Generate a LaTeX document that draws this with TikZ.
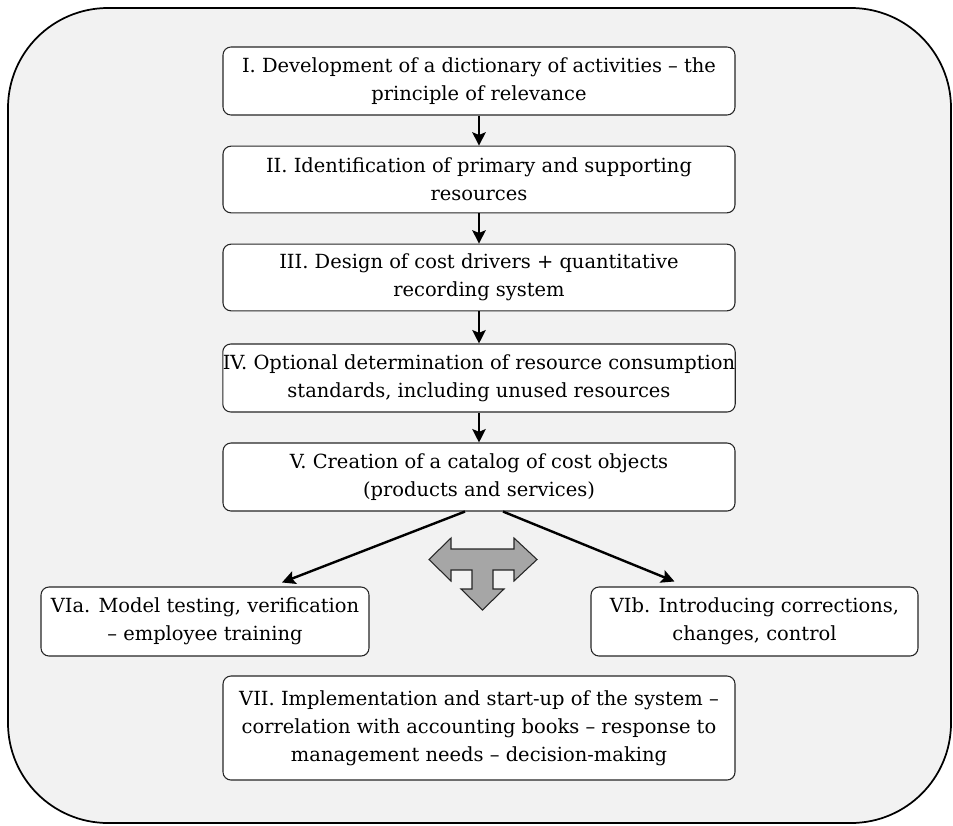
\documentclass[tikz,border=0pt]{standalone}
\usepackage{fontspec}
\setmainfont{DejaVu Serif}
\usetikzlibrary{arrows.meta,calc}
\definecolor{bgc}{HTML}{F2F2F2}
\definecolor{tgray}{HTML}{A6A6A6}
\begin{document}
\begin{tikzpicture}[x=0.75pt,y=-0.75pt,
  stepbox/.style={draw=black!85, fill=white, rounded corners=6pt, line width=0.8pt,
    align=center, inner sep=0pt, font=\fontsize{14.6}{21}\selectfont},
  arr/.style={line width=1.8pt, -{Stealth[length=10pt,width=10pt,inset=2pt]}},
  tarrow/.style={fill=tgray, draw=black!85, line width=0.8pt}]
\useasboundingbox (0,0) rectangle (953,825);
\draw[fill=bgc, line width=1.3pt, rounded corners=75pt] (8,8) rectangle (951,823);

\node[stepbox, minimum width=384pt, minimum height=51pt] (I) at (479,81)
  {I. Development of a dictionary of activities – the\\principle of relevance};
\node[stepbox, minimum width=384pt, minimum height=50pt] (II) at (479,179.5)
  {II. Identification of primary and supporting\\resources};
\node[stepbox, minimum width=384pt, minimum height=50pt] (III) at (479,277.5)
  {III. Design of cost drivers + quantitative\\recording system};
\node[stepbox, minimum width=384pt, minimum height=51pt] (IV) at (479,378)
  {IV. Optional determination of resource consumption\\standards, including unused resources};
\node[stepbox, minimum width=384pt, minimum height=51pt] (V) at (479,477)
  {V. Creation of a catalog of cost objects\\(products and services)};
\node[stepbox, minimum width=246pt, minimum height=51.75pt] (VIa) at (205,621.5)
  {VIa. Model testing, verification\\– employee training};
\node[stepbox, minimum width=245.25pt, minimum height=51.75pt] (VIb) at (754.5,621.5)
  {VIb. Introducing corrections,\\changes, control};
\node[stepbox, minimum width=384pt, minimum height=78pt] (VII) at (479,728)
  {VII. Implementation and start-up of the system –\\correlation with accounting books – response to\\management needs – decision-making};

\draw[arr] (I) -- (II);
\draw[arr] (II) -- (III);
\draw[arr] (III) -- (IV);
\draw[arr] (IV) -- (V);
\draw[arr] ($(V.south)+(-14,0)$) -- ($(VIa.north)+(77,-4)$);
\draw[arr] ($(V.south)+(24,0)$) -- ($(VIb.north)+(-80,-5)$);

\draw[tarrow] (429,559.5) -- (451,538) -- (451,549) -- (514,549) -- (514,538)
  -- (537,559.5) -- (514,581) -- (514,570) -- (493,570) -- (493,589) -- (504,589)
  -- (482.5,610) -- (461,589) -- (472,589) -- (472,570) -- (451,570) -- (451,581) -- cycle;
\end{tikzpicture}
\end{document}
